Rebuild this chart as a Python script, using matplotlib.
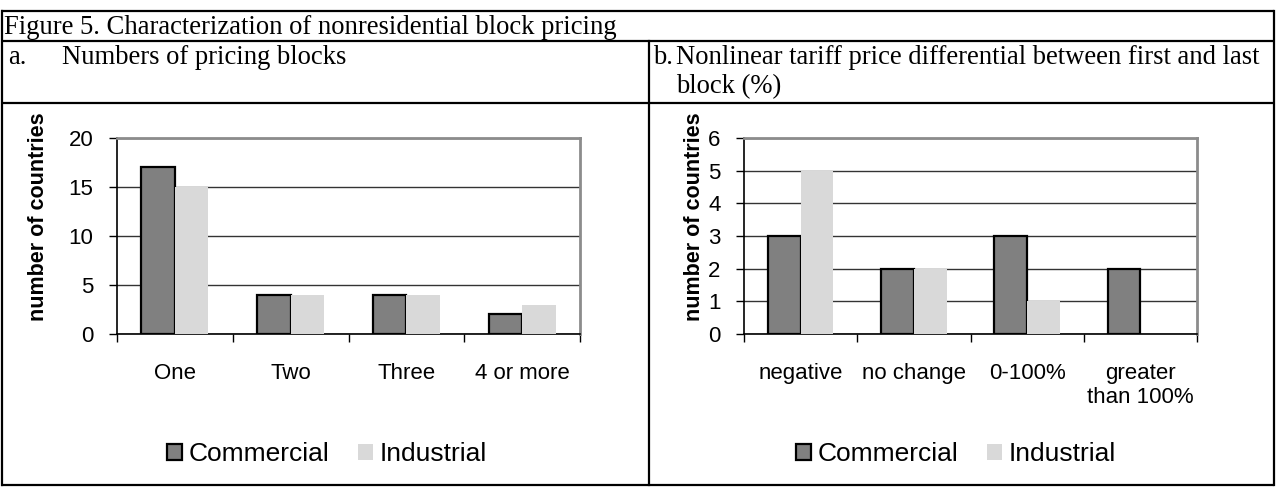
import matplotlib
matplotlib.use("Agg")
import matplotlib.pyplot as plt
from matplotlib.patches import Patch
import numpy as np

# data
blocks_cats = ["One", "Two", "Three", "4 or more"]
blocks_commercial = [17, 4, 4, 2]
blocks_industrial = [15, 4, 4, 3]

diff_cats = ["negative", "no change", "0-100%", "greater\nthan 100%"]
diff_commercial = [3, 2, 3, 2]
diff_industrial = [5, 2, 1, 0]

series_names = ["Commercial", "Industrial"]

title = "Figure 5. Characterization of nonresidential block pricing"
panel_a = "Numbers of pricing blocks"
panel_b = "Nonlinear tariff price differential between first and last\nblock (%)"

dark = "#808080"
light = "#d9d9d9"

W, H = 1276, 487
fig = plt.figure(figsize=(W / 100, H / 100), dpi=100)

# table frame drawn in pixel coords
bg = fig.add_axes([0, 0, 1, 1], zorder=0)
bg.set_xlim(0, W)
bg.set_ylim(H, 0)
bg.axis("off")
lw = 1.6
for y in [11, 41, 103, 485]:
    bg.plot([1, W - 2], [y, y], color="black", lw=lw, solid_capstyle="butt")
for x in [1.5, W - 2.5]:
    bg.plot([x, x], [11, 485], color="black", lw=lw)
bg.plot([649, 649], [41, 485], color="black", lw=lw)

serif = "Liberation Serif"
fs = 19.2
bg.text(4, 27, title, fontsize=fs, family=serif, va="center", ha="left")
bg.text(8, 58, "a.", fontsize=fs, family=serif, va="center", ha="left")
bg.text(62, 58, panel_a, fontsize=fs, family=serif, va="center", ha="left")
bg.text(653, 58, "b.", fontsize=fs, family=serif, va="center", ha="left")
bg.text(676, 72, panel_b, fontsize=fs, family=serif, va="center", ha="left",
        linespacing=1.22)


def bar_panel(rect, cats, comm, ind, ymax, ystep, legend_x):
    ax = fig.add_axes(rect, zorder=1)
    x = np.arange(len(cats))
    w = 0.29
    ax.bar(x - w / 2, comm, w, color=dark, edgecolor="black", linewidth=1.6,
           zorder=3, label=series_names[0])
    ax.bar(x + w / 2, ind, w, color=light, edgecolor="none",
           zorder=3, label=series_names[1])
    ax.set_xlim(-0.5, len(cats) - 0.5)
    ax.set_ylim(0, ymax)
    ax.set_yticks(np.arange(0, ymax + 0.1, ystep))
    ax.yaxis.grid(True, color="#333333", lw=1.0, zorder=0)
    ax.set_axisbelow(True)

    ax.set_xticks(np.arange(-0.5, len(cats)), labels=[])
    ax.set_xticks(x, labels=cats, minor=True)
    ax.tick_params(axis="x", which="major", direction="out", length=6,
                   width=1.0, color="black")
    ax.tick_params(axis="x", which="minor", length=0, pad=21, labelsize=16)
    ax.tick_params(axis="y", direction="out", length=6, width=1.0,
                   pad=11, labelsize=16)
    for lab in ax.get_xticklabels(minor=True):
        lab.set_family("Liberation Sans")
        lab.set_multialignment("center")
    for lab in ax.get_yticklabels():
        lab.set_family("Liberation Sans")

    for s in ["top", "right"]:
        ax.spines[s].set_color("#8c8c8c")
        ax.spines[s].set_linewidth(2.0)
    for s in ["left", "bottom"]:
        ax.spines[s].set_color("black")
        ax.spines[s].set_linewidth(1.2)

    ax.set_ylabel("number of countries", fontsize=15.5, fontweight="bold",
                  family="Liberation Sans", va="center")

    handles = [Patch(facecolor=dark, edgecolor="black", linewidth=1.6),
               Patch(facecolor=light, edgecolor="none")]
    fig.legend(handles, series_names, loc="center",
               bbox_to_anchor=(legend_x / W, 1 - 454 / H), ncol=2,
               frameon=False, prop={"family": "Liberation Sans", "size": 19},
               handlelength=0.55, handleheight=0.55, handletextpad=0.25,
               columnspacing=1.1)
    return ax


ax1 = bar_panel([117 / W, 1 - 334 / H, 463 / W, 196 / H], blocks_cats,
                blocks_commercial, blocks_industrial, 20, 5, 327)
ax1.yaxis.set_label_coords((38 - 117) / 463, (334 - 217) / 196)

ax2 = bar_panel([744 / W, 1 - 334 / H, 453 / W, 196 / H], diff_cats,
                diff_commercial, diff_industrial, 6, 1, 956)
ax2.yaxis.set_label_coords((694 - 744) / 453, (334 - 217) / 196)

fig.savefig("out.png", dpi=100)
